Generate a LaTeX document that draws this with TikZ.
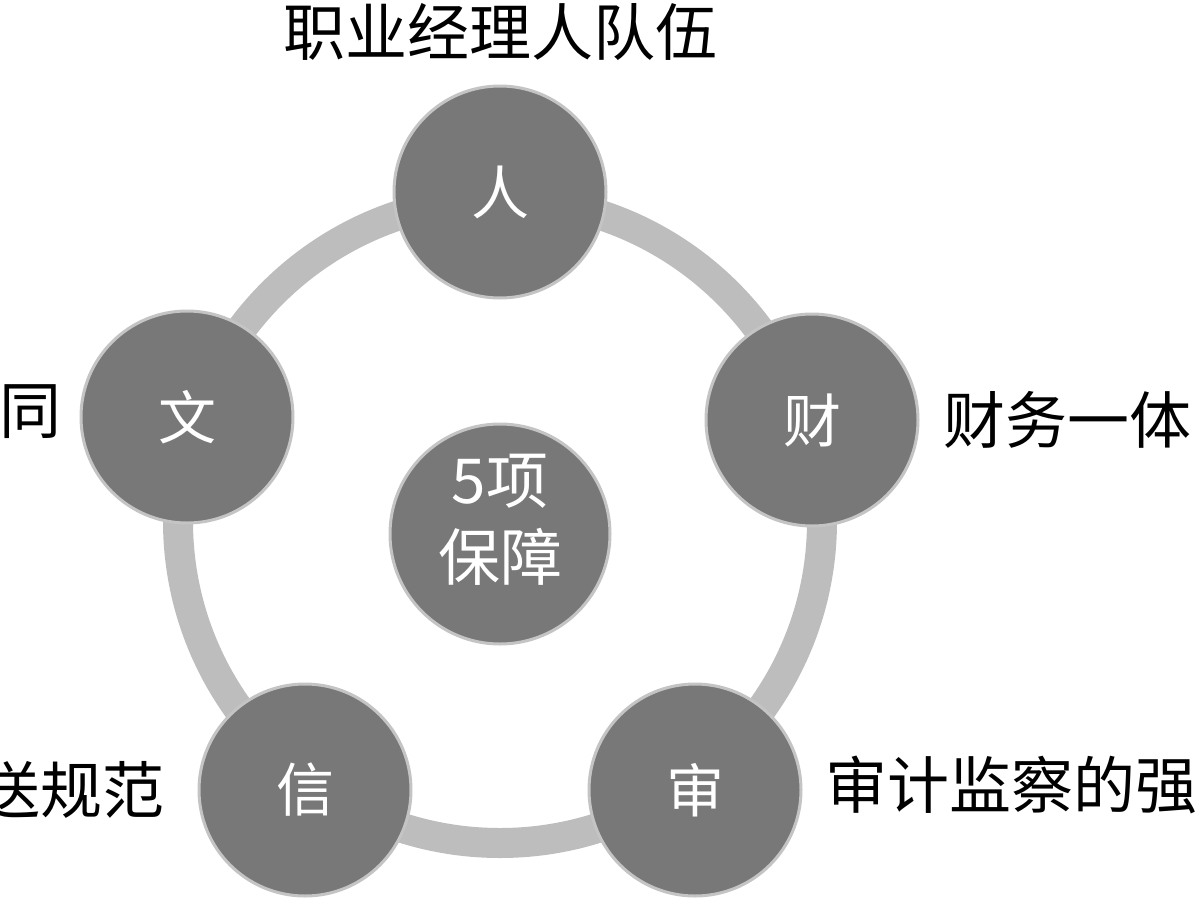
\documentclass[tikz,border=0pt]{standalone}
\usepackage{fontspec}
\setmainfont{Noto Sans CJK SC}
\definecolor{ringgray}{HTML}{BDBDBD}
\definecolor{discgray}{HTML}{787878}
\definecolor{rimgray}{HTML}{C4C4C4}
\begin{document}
\begin{tikzpicture}[x=1pt,y=-1pt,
  disc/.style={circle, fill=discgray, draw=rimgray, line width=3pt, minimum size=212pt, inner sep=0pt, text=white, font=\fontsize{58}{60}\selectfont},
  lbl/.style={font=\fontsize{62}{70}\selectfont, text=black, inner sep=0pt}]
\useasboundingbox (0,0) rectangle (1200,900);
\clip (0,0) rectangle (1200,900);
\fill[white] (0,0) rectangle (1200,900);
\draw[ringgray, line width=30pt] (500,521) circle (322pt);
\node[disc] (ren) at (500,192) {人};
\node[disc] (cai) at (812,420) {财};
\node[disc] (wen) at (187,417) {文};
\node[disc] (xin) at (305,790) {信};
\node[disc] (shen) at (695,790) {审};
\node[disc, minimum size=220pt] (mid) at (500,534) {};
\node[text=white, font=\fontsize{62}{77}\selectfont, align=center, inner sep=0pt] (midtext) at (500,520) {5项\\保障};
\node[lbl] (tren) at (500,32) {职业经理人队伍};
\node[lbl, anchor=west] (tcai) at (943,420) {财务一体};
\node[lbl, anchor=west] (tshen) at (825,785) {审计监察的强};
\node[lbl, anchor=east] (txin) at (165,790) {送规范};
\node[lbl, anchor=east] (twen) at (62,412) {同};
\end{tikzpicture}
\end{document}
